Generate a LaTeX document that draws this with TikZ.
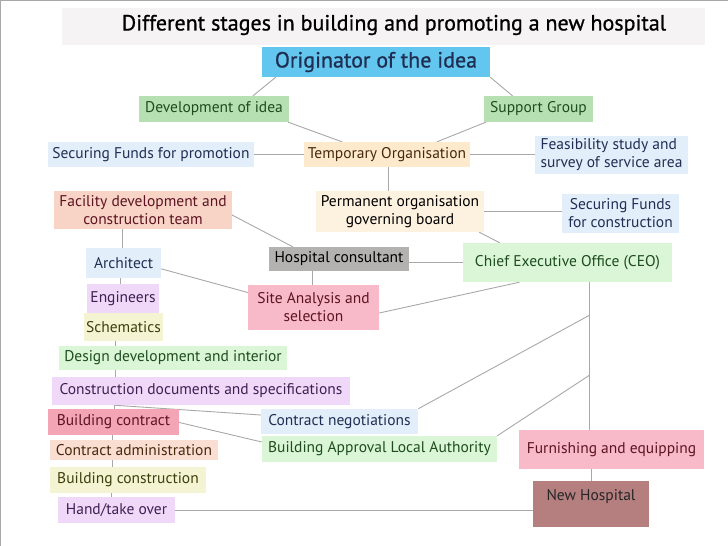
\documentclass[tikz,border=0pt]{standalone}
\usepackage{fontspec}
\setmainfont{PT Sans}
\newfontfamily\headfont[FakeBold=0.8]{PT Sans}
\usetikzlibrary{calc,backgrounds}

\definecolor{bandgray}{RGB}{245,243,243}
\definecolor{origblue}{RGB}{98,198,238}
\definecolor{midgreen}{RGB}{182,224,178}
\definecolor{palegreen}{RGB}{218,246,214}
\definecolor{paleblue}{RGB}{226,238,250}
\definecolor{cream}{RGB}{253,233,204}
\definecolor{palecream}{RGB}{253,241,223}
\definecolor{salmon}{RGB}{248,212,198}
\definecolor{palesalmon}{RGB}{251,222,210}
\definecolor{consgray}{RGB}{180,177,177}
\definecolor{lavender}{RGB}{240,217,248}
\definecolor{rosepink}{RGB}{248,185,201}
\definecolor{deeppink}{RGB}{244,165,181}
\definecolor{paleyellow}{RGB}{244,244,210}
\definecolor{mauve}{RGB}{181,127,128}
\definecolor{linegray}{RGB}{168,168,168}
\definecolor{txtgreen}{RGB}{30,76,30}
\definecolor{txtblue}{RGB}{32,46,82}
\definecolor{txtbrown}{RGB}{70,42,14}
\definecolor{txtred}{RGB}{92,20,34}
\definecolor{txtpurple}{RGB}{62,32,82}
\definecolor{txtolive}{RGB}{62,62,14}

\tikzset{
  box/.style={inner sep=2pt, align=center, font=\fontsize{15.5}{18}\selectfont},
  link/.style={draw=linegray, line width=0.9pt},
}

\begin{document}
\begin{tikzpicture}[x=1pt,y=-1pt]
\useasboundingbox (0,0) rectangle (728,546);
\draw[linegray, line width=1pt] (0.5,546) -- (0.5,0.5) -- (728,0.5);

% title
\fill[bandgray] (62,8) rectangle (705,45);
\node[font=\headfont\fontsize{22}{24}\selectfont] (title) at (394,25) {Different stages in building and promoting a new hospital};

% boxes
\node[box, fill=origblue, text=txtblue, minimum width=228pt, minimum height=30pt, font=\headfont\fontsize{22}{24}\selectfont] (orig) at (376,62) {Originator of the idea};
\node[box, fill=midgreen, text=txtgreen, minimum width=150pt, minimum height=26pt] (dev) at (214,109) {Development of idea};
\node[box, fill=midgreen, text=txtgreen, minimum width=109pt, minimum height=26pt] (supp) at (538.5,109) {Support Group};
\node[box, fill=paleblue, text=txtblue, minimum width=206pt, minimum height=25pt] (sfp) at (151,154.5) {Securing Funds for promotion};
\node[box, fill=cream, text=txtbrown, minimum width=166pt, minimum height=25pt] (temp) at (387,154.5) {Temporary Organisation};
\node[box, fill=paleblue, text=txtblue, minimum width=153pt, minimum height=38pt, align=left] (feas) at (611.5,155) {Feasibility study and\\survey of service area};
\node[box, fill=salmon, text=txtred, minimum width=178pt, minimum height=38pt] (fac) at (143,210) {Facility development and\\construction team};
\node[box, fill=palecream, text=black, minimum width=168pt, minimum height=41pt] (perm) at (400,211.5) {Permanent organisation\\governing board};
\node[box, fill=paleblue, text=txtblue, minimum width=117pt, minimum height=39pt] (sfc) at (620.5,213.5) {Securing Funds\\for construction};
\node[box, fill=paleblue, text=txtblue, minimum width=75pt, minimum height=30pt] (arch) at (123.5,263) {Architect};
\node[box, fill=consgray, text=black, minimum width=140pt, minimum height=24pt] (hosp) at (339,259) {Hospital consultant};
\node[box, fill=palegreen, text=txtgreen, minimum width=209pt, minimum height=39pt] (ceo) at (567.5,262.5) {Chief Executive Office (CEO)};
\node[box, fill=lavender, text=txtpurple, minimum width=72pt, minimum height=29pt] (eng) at (123,298.5) {Engineers};
\node[box, fill=rosepink, text=txtred, minimum width=131pt, minimum height=45pt] (site) at (313.5,307.5) {Site Analysis and\\selection};
\node[box, fill=paleyellow, text=txtolive, minimum width=79pt, minimum height=28pt] (sch) at (123.5,327) {Schematics};
\node[box, fill=palegreen, text=txtgreen, minimum width=228pt, minimum height=24pt] (des) at (173,358) {Design development and interior};
\node[box, fill=lavender, text=txtpurple, minimum width=298pt, minimum height=28pt] (cdoc) at (201,391) {Construction documents and specifications};
\node[box, fill=deeppink, text=txtred, minimum width=131pt, minimum height=26pt] (bcon) at (113.5,422) {Building contract};
\node[box, fill=paleblue, text=txtblue, minimum width=157pt, minimum height=25pt] (cneg) at (339.5,421.5) {Contract negotiations};
\node[box, fill=palesalmon, text=txtbrown, minimum width=168pt, minimum height=20pt, inner sep=0pt] (cadm) at (134,450) {Contract administration};
\node[box, fill=palegreen, text=txtgreen, minimum width=235pt, minimum height=26pt] (bapp) at (379.5,449) {Building Approval Local Authority};
\node[box, fill=rosepink, text=txtred, minimum width=185pt, minimum height=39pt] (furn) at (611.5,449.5) {Furnishing and equipping};
\node[box, fill=paleyellow, text=txtolive, minimum width=156pt, minimum height=26pt] (bcons) at (128,480) {Building construction};
\node[box, fill=lavender, text=txtpurple, minimum width=117pt, minimum height=26pt] (hand) at (116.5,510) {Hand/take over};
\node[box, fill=mauve, text=black!85, minimum width=116pt, inner ysep=4pt, text height=15pt, text depth=23pt] (newh) at (591,504) {New Hospital};

% junctions on the CEO line
\coordinate (j1) at ($(ceo.south)+(22,33)$);
\coordinate (j2) at ($(ceo.south)+(22,93)$);

% connectors, behind the boxes
\begin{scope}[on background layer]
\draw[link] ([xshift=14pt]orig.south west) -- ([xshift=39pt]dev.north);
\draw[link] (orig.south east) -- ([xshift=-26pt]supp.north);
\draw[link] ([xshift=-1pt]dev.south east) -- ([xshift=-45pt]temp.north);
\draw[link] ([xshift=2pt]supp.south west) -- ([xshift=50pt]temp.north);
\draw[link] (sfp.east) -- (temp.west);
\draw[link] (temp.east) -- (temp.east -| feas.west);
\draw[link] ([xshift=1pt]temp.south) -- ([xshift=1pt]temp.south |- perm.north);
\draw[link] (perm.east) -- (perm.east -| sfc.west);
\draw[link] ([xshift=-5pt]perm.south east) -- ([xshift=37pt]ceo.north west);
\draw[link] ([xshift=-4pt,yshift=-3pt]fac.east) -- ([xshift=24pt]hosp.north west);
\draw[link] ([xshift=-1.5pt]arch.north |- fac.south) -- ([xshift=-1.5pt]arch.north);
\draw[link] (ceo.west -| hosp.east) -- (ceo.west);
\draw[link] ([xshift=-1.5pt]site.north |- hosp.south) -- ([xshift=-1.5pt]site.north);
\draw[link] ([xshift=-3pt,yshift=-5pt]arch.east) -- ([yshift=15pt]site.west);
\draw[link] ([xshift=-48pt]ceo.south) -- ([yshift=-5.5pt]site.east);
\foreach \a/\b/\s in {arch/eng/-3.5, eng/sch/-5, sch/des/-8.5, des/cdoc/-58,
                      cdoc/bcon/-87, bcon/cadm/-1.5, cadm/bcons/-22, bcons/hand/-17}
  \draw[link] ([xshift=\s pt]\a.south) -- ([xshift=\s pt]\a.south |- \b.north);
\draw[link] ([xshift=-87pt]cdoc.south) -- ([yshift=6.5pt]cneg.west);
\draw[link] ([xshift=-2pt]bcon.east) -- ([yshift=7pt]bapp.west);
\draw[link] ([xshift=22pt]ceo.south) -- ([xshift=22pt]ceo.south |- furn.north);
\draw[link] (cneg.north east) -- (j1);
\draw[link] (bapp.north east) -- (j2);
\draw[link] (newh.north |- furn.south) -- (newh.north);
\draw[link] (hand.east) -- (hand.east -| newh.west);
\end{scope}
\end{tikzpicture}
\end{document}
